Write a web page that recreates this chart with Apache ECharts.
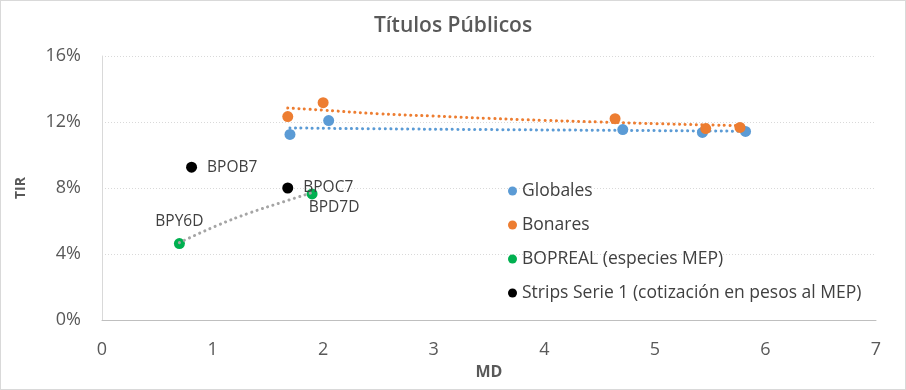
<!DOCTYPE html>
<html><head><meta charset="utf-8">
<script src="https://cdn.jsdelivr.net/npm/echarts@6/dist/echarts.min.js"></script>
<style>html,body{margin:0;padding:0;background:#fff}#c{width:904px;height:388px;border:1px solid #d9d9d9}</style>
</head><body><div id="c"></div>
<script>
// data (MD, TIR %)
const globales = [[1.70,11.25],[2.05,12.09],[4.71,11.54],[5.43,11.37],[5.82,11.43]];
const bonares = [[1.68,12.33],[2.00,13.17],[4.64,12.20],[5.46,11.60],[5.77,11.67]];
const bopreal = [[0.70,4.63,'BPY6D'],[1.90,7.64,'BPD7D']];
const strips = [[0.81,9.26,'BPOB7'],[1.68,8.00,'BPOC7']];
// trendlines
const trendGlobales = [[1.70,11.64],[2.5,11.59],[3.5,11.54],[4.5,11.50],[5.82,11.44]];
const trendBonares = [[1.68,12.85],[2.0,12.72],[2.5,12.50],[3.0,12.36],[3.5,12.22],[4.0,12.10],[4.5,12.00],[5.0,11.90],[5.77,11.78]];
const trendBopreal = [[0.70,4.69],[1.05,5.75],[1.34,6.50],[1.64,7.16],[1.89,7.70]];
const xTicks = [0,1,2,3,4,5,6,7];
const yTicks = [0,4,8,12,16];

const FONT = '"Open Sans","Noto Sans",sans-serif';
const chart = echarts.init(document.getElementById('c'));
const dot = (color) => ({color: color, width: 3, type: [0.1, 5.5], cap: 'round'});
const trend = (data, color) => ({type:'line', data, smooth:true, symbol:'none', lineStyle: dot(color), silent:true, z:1, legendHoverLink:false, tooltip:{show:false}});
chart.setOption({
  animation:false,
  title:{text:'Títulos Públicos', left:'center', top:10, textStyle:{fontFamily:FONT, fontSize:21, fontWeight:600, color:'#595959'}},
  legend:{orient:'vertical', left:502, top:176, itemGap:16, itemWidth:9, itemHeight:9, icon:'circle',
    data:['Globales','Bonares','BOPREAL (especies MEP)','Strips Serie 1 (cotización en pesos al MEP)'],
    textStyle:{fontFamily:FONT, fontSize:17.5, color:'#404040', padding:[0,0,0,0]}},
  grid:{left:101, right:29, top:55, bottom:69},
  xAxis:{type:'value', min:0, max:7, interval:1, name:'MD', nameLocation:'middle', nameGap:44,
    nameTextStyle:{fontFamily:FONT, fontSize:16, fontWeight:'bold', color:'#595959'},
    axisLine:{show:true, lineStyle:{color:'#bfbfbf', width:1}}, axisTick:{show:false}, splitLine:{show:false},
    axisLabel:{fontFamily:FONT, fontSize:18, color:'#595959', margin:21}},
  yAxis:{type:'value', min:0, max:16, interval:4, name:'TIR', nameLocation:'middle', nameGap:74, nameRotate:90,
    nameTextStyle:{fontFamily:FONT, fontSize:14, fontWeight:'bold', color:'#595959'},
    axisLine:{show:true, lineStyle:{color:'#d9d9d9', width:1}}, axisTick:{show:false},
    splitLine:{show:true, lineStyle:{color:'#d9d9d9', width:1, type:[1,2]}},
    axisLabel:{fontFamily:FONT, fontSize:18, color:'#595959', margin:21, formatter: v => v + '%'}},
  series:[
    trend(trendGlobales, '#5B9BD5'),
    trend(trendBonares, '#ED7D31'),
    trend(trendBopreal, '#A5A5A5'),
    {name:'Globales', type:'scatter', data:globales, symbolSize:11, itemStyle:{color:'#5B9BD5', opacity:1}, z:2},
    {name:'Bonares', type:'scatter', data:bonares, symbolSize:11, itemStyle:{color:'#ED7D31', opacity:1}, z:2},
    {name:'BOPREAL (especies MEP)', type:'scatter', data:bopreal, symbolSize:11, itemStyle:{color:'#00B050', opacity:1}, z:0,
      label:{show:true, fontFamily:FONT, fontSize:15.5, color:'#404040', formatter:p=>p.data[2]},
      labelLayout: (p) => p.dataIndex === 0 ? {dx:0, dy:-22} : {dx:22, dy:14}},
    {name:'Strips Serie 1 (cotización en pesos al MEP)', type:'scatter', data:strips, symbolSize:11, itemStyle:{color:'#000000', opacity:1}, z:2,
      label:{show:true, position:'right', distance:10, fontFamily:FONT, fontSize:15.5, color:'#404040', formatter:p=>p.data[2]}}
  ]
});
</script></body></html>
